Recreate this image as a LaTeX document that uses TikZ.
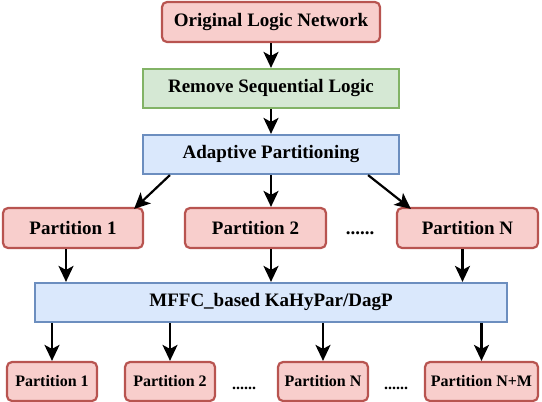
\documentclass[tikz,border=0pt]{standalone}
\usepackage{fontspec}
\setmainfont{Liberation Serif}
\usepackage{tikz}
\usetikzlibrary{arrows.meta,positioning}

\definecolor{redfill}{HTML}{F8CECC}
\definecolor{reddraw}{HTML}{B85450}
\definecolor{greenfill}{HTML}{D5E8D4}
\definecolor{greendraw}{HTML}{82B366}
\definecolor{bluefill}{HTML}{DAE8FC}
\definecolor{bluedraw}{HTML}{6C8EBF}

\begin{document}
\begin{tikzpicture}[
  x=1pt, y=-1pt,
  part/.style={draw=reddraw, fill=redfill, line width=2.2pt, rounded corners=5pt, inner sep=0pt,
    font=\fontsize{19}{22}\selectfont\bfseries, minimum height=40pt},
  small/.style={part, font=\fontsize{16}{19}\selectfont\bfseries, minimum height=39pt},
  stage/.style={line width=2.2pt, inner sep=0pt, minimum height=39pt,
    font=\fontsize{19}{22}\selectfont\bfseries},
  dots/.style={anchor=base, inner sep=0pt, font=\fontsize{19}{22}\selectfont\bfseries},
  >={Stealth[length=16pt, width=15pt, inset=4pt]}
]
\useasboundingbox (0,0) rectangle (542,402);
% top chain
\node[part, minimum width=218pt] (orig) at (271,22) {Original Logic Network};
\node[stage, draw=greendraw, fill=greenfill, minimum width=256pt] (seqrm) at (271,88.5) {Remove Sequential Logic};
\node[stage, draw=bluedraw, fill=bluefill, minimum width=256pt] (adapt) at (271,154.5) {Adaptive Partitioning};
% first partitions
\node[part, minimum width=140pt] (p1) at (73,228) {Partition 1};
\node[part, minimum width=141pt] (p2) at (255.5,228) {Partition 2};
\node[part, minimum width=141pt] (pn) at (467.5,228) {Partition N};
\node[dots] (d1) at (360,234) {......};
\node[stage, draw=bluedraw, fill=bluefill, minimum width=472pt] (mffc) at (271,302.5) {MFFC\_based KaHyPar/DagP};
% final partitions
\node[small, minimum width=90pt] (q1) at (52,381.5) {Partition 1};
\node[small, minimum width=90pt] (q2) at (170,381.5) {Partition 2};
\node[small, minimum width=90pt] (qn) at (323,381.5) {Partition N};
\node[small, minimum width=113pt] (qnm) at (481.5,381.5) {Partition N+M};
\node[dots, font=\fontsize{16}{19}\selectfont\bfseries] (d2) at (244,389) {......};
\node[dots, font=\fontsize{16}{19}\selectfont\bfseries] (d3) at (396,389) {......};

\draw[->, line width=2.2pt] (orig) -- (seqrm);
\draw[->, line width=2.2pt] (seqrm) -- (adapt);
\draw[->, line width=2.2pt] ([xshift=28pt]adapt.south west) -- ([xshift=-10pt, yshift=-2pt]p1.north east);
\draw[->, line width=2.2pt] (adapt.south) -- (adapt.south |- p2.north);
\draw[->, line width=2.2pt] ([xshift=-32pt]adapt.south east) -- ([xshift=15pt, yshift=-2pt]pn.north west);
\draw[->, line width=2.2pt] ([xshift=-7pt]p1.south) -- ([xshift=-7pt]p1.south |- mffc.north);
\draw[->, line width=2.2pt] (adapt.south |- p2.south) -- (adapt.south |- mffc.north);
\draw[->, line width=2.2pt] ([xshift=-5pt]pn.south) -- ([xshift=-5pt]pn.south |- mffc.north);
\draw[->, line width=2.2pt] (mffc.south -| q1) -- (q1);
\draw[->, line width=2.2pt] (mffc.south -| q2) -- (q2);
\draw[->, line width=2.2pt] (mffc.south -| qn) -- (qn);
\draw[->, line width=2.2pt] (mffc.south -| qnm) -- (qnm);
\end{tikzpicture}
\end{document}
